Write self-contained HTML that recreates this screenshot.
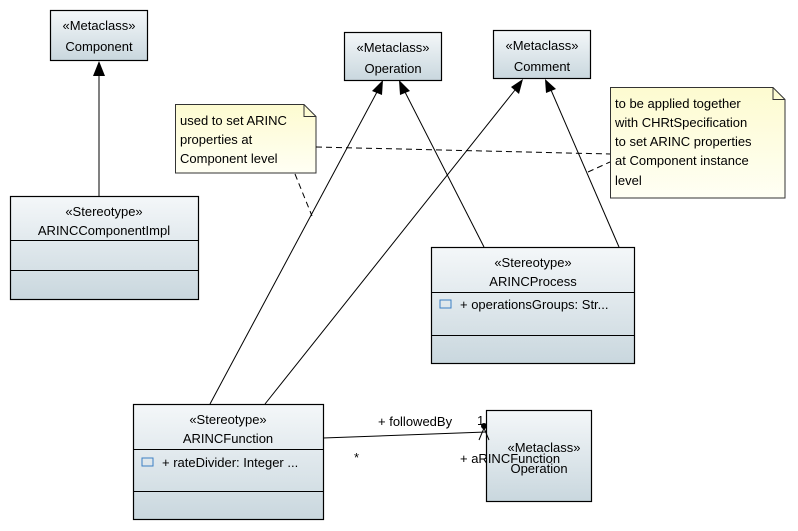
<!DOCTYPE html>
<html><head><style>body{margin:0;background:#fff}svg{display:block}text{font-family:"Liberation Sans",sans-serif;font-size:13px;fill:#000}</style></head><body>
<svg width="798" height="531" viewBox="0 0 798 531">
<defs>
<linearGradient id="g" x1="0" y1="0" x2="0" y2="1"><stop offset="0" stop-color="#f4f7f9"/><stop offset="1" stop-color="#c9d7de"/></linearGradient>
<linearGradient id="y" x1="0" y1="0" x2="0" y2="1"><stop offset="0" stop-color="#fdfbd0"/><stop offset="1" stop-color="#fffff4"/></linearGradient>
</defs>
<g stroke="#000" stroke-width="1.2" fill="url(#g)">
<rect x="50.5" y="10.5" width="97" height="50"/>
<rect x="344.5" y="32.5" width="97" height="48"/>
<rect x="493.5" y="30.5" width="97" height="48"/>
<rect x="10.5" y="196.5" width="188" height="103"/>
<rect x="431.5" y="247.5" width="203" height="116"/>
<rect x="133.5" y="404.5" width="190" height="115"/>
<rect x="486.5" y="410.5" width="105" height="91"/>
</g>
<g stroke="#000" stroke-width="1">
<line x1="10" y1="240.5" x2="198" y2="240.5"/><line x1="10" y1="270.5" x2="198" y2="270.5"/>
<line x1="431" y1="292.5" x2="634" y2="292.5"/><line x1="431" y1="335.5" x2="634" y2="335.5"/>
<line x1="133" y1="449.5" x2="323" y2="449.5"/><line x1="133" y1="491.5" x2="323" y2="491.5"/>
</g>
<path d="M175.5 104.5H304l12 12v56.5H175.5Z" fill="url(#y)" stroke="#333"/>
<path d="M304 104.5v12h12" fill="none" stroke="#333"/>
<path d="M610.5 87.5H773l12 12v98.5H610.5Z" fill="url(#y)" stroke="#333"/>
<path d="M773 87.5v12h12" fill="none" stroke="#333"/>
<g stroke="#000" stroke-width="1" fill="none">
<line x1="99" y1="75" x2="99" y2="196"/>
<line x1="210" y1="404" x2="377" y2="92"/>
<line x1="484" y1="247" x2="405" y2="92"/>
<line x1="265" y1="404" x2="515" y2="90"/>
<line x1="619" y1="247" x2="551" y2="90"/>
<line x1="323" y1="438" x2="486" y2="432"/>
</g>
<g stroke="#000" stroke-dasharray="6,4" fill="none">
<line x1="316" y1="147" x2="610" y2="154"/>
<line x1="295" y1="174" x2="312" y2="216"/>
<line x1="588" y1="172" x2="610" y2="162"/>
</g>
<g fill="#000">
<polygon points="99,61 93,76 105,76"/>
<polygon points="383,80 372,91 382,95"/>
<polygon points="399,80 400,95 410,91"/>
<polygon points="523,79 511,87 519,94"/>
<polygon points="545,79 546,93 556,89"/>
<circle cx="484" cy="426" r="3"/>
</g>
<path d="M479 440L484 428L489 440" stroke="#000" fill="none"/>
<rect x="440" y="300" width="11" height="8" fill="none" stroke="#3b7fc4"/>
<rect x="142" y="458" width="11" height="8" fill="none" stroke="#3b7fc4"/>
<g text-anchor="middle">
<text x="99" y="30" font-size="12">«Metaclass»</text><text x="99" y="51">Component</text>
<text x="393" y="52" font-size="12">«Metaclass»</text><text x="393" y="73">Operation</text>
<text x="542" y="50" font-size="12">«Metaclass»</text><text x="542" y="71">Comment</text>
<text x="104" y="216" font-size="12">«Stereotype»</text><text x="104" y="235">ARINCComponentImpl</text>
<text x="533" y="267" font-size="12">«Stereotype»</text><text x="533" y="286">ARINCProcess</text>
<text x="228" y="424" font-size="12">«Stereotype»</text><text x="228" y="443">ARINCFunction</text>
<text x="544" y="452">«Metaclass»</text><text x="539" y="473">Operation</text>
</g>
<text x="460" y="309">+ operationsGroups: Str...</text>
<text x="162" y="467">+ rateDivider: Integer ...</text>
<text x="378" y="426">+ followedBy</text><text x="477" y="425">1</text>
<text x="354" y="462">*</text><text x="460" y="463">+ aRINCFunction</text>
<text x="180" y="125">used to set ARINC</text>
<text x="180" y="144">properties at</text>
<text x="180" y="163">Component level</text>
<text x="615" y="108">to be applied together</text>
<text x="615" y="127">with CHRtSpecification</text>
<text x="615" y="146">to set ARINC properties</text>
<text x="615" y="165">at Component instance</text>
<text x="615" y="185">level</text>
</svg>
</body></html>
